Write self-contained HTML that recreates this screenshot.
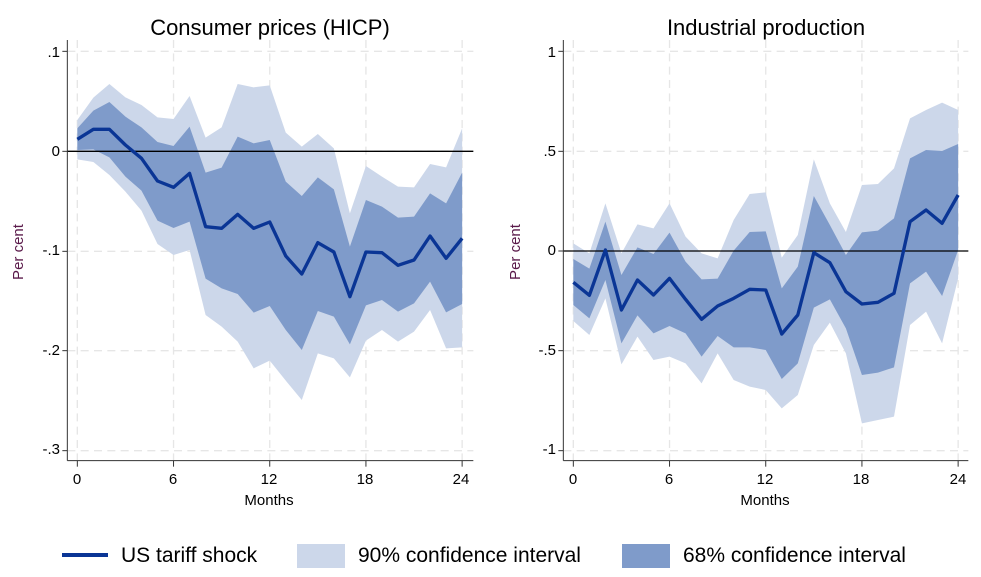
<!DOCTYPE html>
<html><head><meta charset="utf-8"><style>
body{margin:0;background:#fff;}
svg{display:block;font-family:"Liberation Sans",Arial,sans-serif;}
</style></head><body>
<svg id="s" width="981" height="577" xmlns="http://www.w3.org/2000/svg">
<rect width="981" height="577" fill="#fff"/>
<text x="270" y="35" font-size="22" text-anchor="middle" fill="#000">Consumer prices (HICP)</text>
<text x="766" y="35" font-size="22" text-anchor="middle" fill="#000">Industrial production</text>
<g font-size="15" fill="#000" text-anchor="end">
<text x="60" y="57">.1</text><text x="60" y="156">0</text><text x="60" y="255">-.1</text><text x="60" y="355">-.2</text><text x="60" y="454">-.3</text>
<text x="556" y="57">1</text><text x="556" y="156">.5</text><text x="556" y="255">0</text><text x="556" y="355">-.5</text><text x="556" y="454">-1</text>
</g>
<g font-size="15" fill="#000" text-anchor="middle">
<text x="77" y="484">0</text><text x="173" y="484">6</text><text x="269" y="484">12</text><text x="365" y="484">18</text><text x="461" y="484">24</text>
<text x="573" y="484">0</text><text x="669" y="484">6</text><text x="765" y="484">12</text><text x="861" y="484">18</text><text x="958" y="484">24</text>
<text x="269" y="505">Months</text><text x="765" y="505">Months</text>
</g>
<text transform="translate(23,252) rotate(-90)" font-size="15" text-anchor="middle" fill="#5a1a4a">Per cent</text>
<text transform="translate(520,252) rotate(-90)" font-size="15" text-anchor="middle" fill="#5a1a4a">Per cent</text>
<g id="p1" transform="translate(60,40) scale(0.33333)"></g>
<g id="p2" transform="translate(555,40) scale(0.33333)"></g>
<line x1="62" y1="555" x2="108" y2="555" stroke="#0a3595" stroke-width="4"/>
<text x="121" y="562" font-size="21">US tariff shock</text>
<rect x="297" y="544" width="48" height="24" fill="#ccd7ea"/>
<text x="358" y="562" font-size="21">90% confidence interval</text>
<rect x="622" y="544" width="48" height="24" fill="#7f9bca"/>
<text x="683" y="562" font-size="21">68% confidence interval</text>
</svg>
<script>
function build(id,x0,dx,ax,z0,gy,m,u68,l68,u90,l90){
 var g=document.getElementById(id),h='';
 function X(i){return x0+dx*i;}
 function poly(u,l,c){var p=[];for(var i=0;i<25;i++)p.push(X(i)+','+u[i]);for(var i=24;i>=0;i--)p.push(X(i)+','+l[i]);return '<polygon points="'+p.join(' ')+'" fill="'+c+'"/>';}
 gy.forEach(function(y){h+='<line x1="'+ax+'" x2="1240" y1="'+y+'" y2="'+y+'" stroke="#e6e6e6" stroke-width="4" stroke-dasharray="24,16"/>';h+='<line x1="'+(ax-15)+'" x2="'+ax+'" y1="'+y+'" y2="'+y+'" stroke="#333" stroke-width="3"/>';});
 for(var k=0;k<5;k++){var x=X(k*6);h+='<line x1="'+x+'" x2="'+x+'" y1="0" y2="1262" stroke="#e6e6e6" stroke-width="4" stroke-dasharray="24,16"/>';h+='<line x1="'+x+'" x2="'+x+'" y1="1262" y2="1280" stroke="#333" stroke-width="3"/>';}
 h+=poly(u90,l90,'#ccd7ea');h+=poly(u68,l68,'#7f9bca');
 h+='<line x1="'+ax+'" x2="1240" y1="'+z0+'" y2="'+z0+'" stroke="#000" stroke-width="4"/>';
 var p=[];for(var i=0;i<25;i++)p.push(X(i)+','+m[i]);
 h+='<polyline points="'+p.join(' ')+'" fill="none" stroke="#0a3595" stroke-width="10" stroke-linejoin="round"/>';
 h+='<line x1="'+ax+'" x2="'+ax+'" y1="0" y2="1262" stroke="#333" stroke-width="3"/><line x1="'+ax+'" x2="1240" y1="1262" y2="1262" stroke="#333" stroke-width="3"/>';
 g.innerHTML=h;
}
build('p1',52,48.1,22,334,[34,334,634,932,1232],
[298,268,268,315,355,423,442,400,560,565,523,565,546,648,702,608,636,770,636,638,676,660,588,655,595],
[265,212,186,230,262,306,318,260,398,383,290,310,300,425,468,412,448,620,480,500,533,530,460,490,398],
[330,328,352,410,452,542,564,545,716,745,762,818,798,870,930,813,830,913,796,780,815,790,725,817,792],
[240,173,132,172,195,232,237,168,293,262,132,142,136,278,320,282,325,520,378,410,440,442,372,382,265],
[358,366,405,455,512,612,645,630,825,860,905,985,962,1022,1080,940,955,1012,902,870,905,875,810,925,922]);
build('p2',55,48.1,25,633,[34,334,633,932,1232],
[727,766,630,810,720,765,715,778,838,798,775,748,750,882,825,638,668,755,792,787,760,545,510,550,465],
[657,686,545,705,622,642,578,665,718,716,632,576,574,745,680,468,555,645,577,572,535,355,330,333,312],
[795,835,720,910,826,880,858,880,950,888,922,922,930,1017,970,803,778,865,1005,998,982,730,695,768,630],
[610,640,490,640,553,565,490,590,640,655,540,462,457,653,585,358,490,576,435,432,385,235,210,188,210],
[843,885,775,973,890,960,950,970,1030,940,1020,1040,1050,1105,1065,915,848,940,1150,1140,1130,855,815,910,715]);
</script>
</body></html>
